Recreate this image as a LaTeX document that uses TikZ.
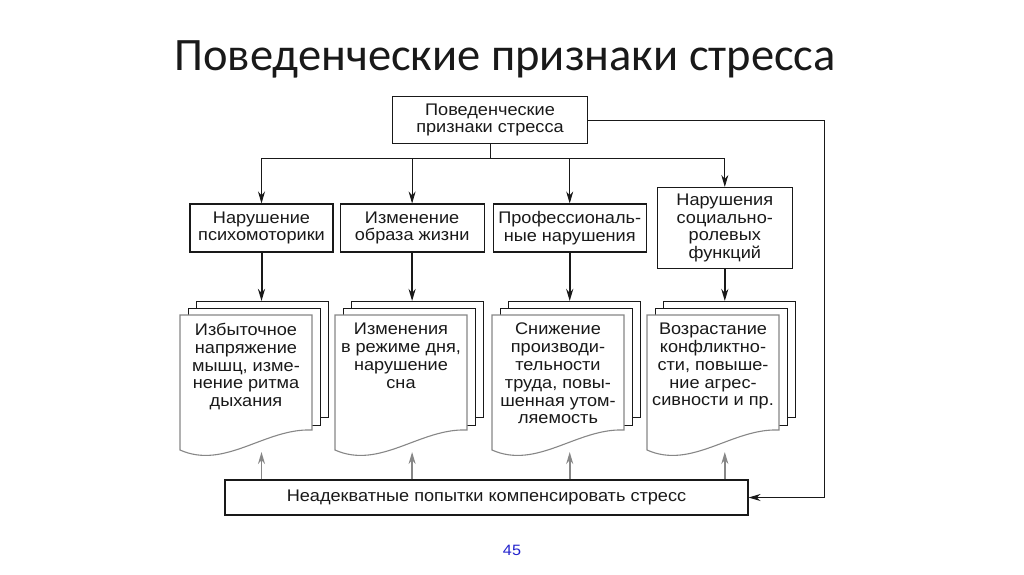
\documentclass[tikz,border=0pt]{standalone}
\usepackage{fontspec}
\setmainfont{Liberation Sans}[FakeStretch=1.08]
\newfontfamily\titlefont{Carlito}
\usepackage{xcolor}
\usetikzlibrary{arrows.meta,positioning}
\definecolor{ink}{RGB}{25,25,25}
\definecolor{shade}{RGB}{135,135,135}
\definecolor{pagenum}{RGB}{35,35,205}
\tikzstyle{box} = [rectangle, draw=ink, line width=1.1pt, fill=white, align=center, inner sep=2pt, text=ink, font=\fontsize{16.8}{17.8}\selectfont]
\tikzstyle{sheettext} = [draw=none, align=center, anchor=north, inner sep=2pt, text=ink, font=\fontsize{16.8}{17.8}\selectfont]
\tikzstyle{link} = [->, draw=ink, line width=0.9pt]
\tikzstyle{heavy} = [-{Stealth[length=12pt,width=7pt]}, draw=ink, line width=2pt]
\tikzstyle{back} = [-{Stealth[length=12pt,width=7pt]}, draw=shade, line width=1.6pt]
\tikzstyle{wire} = [draw=ink, line width=0.9pt]
% three sheets of a stack, #1 = left edge of the front sheet
\newcommand{\sheets}[2]{%
  \draw[draw=ink, fill=white, line width=1pt] (#1+16,301) rectangle (#1+148,417);
  \draw[draw=ink, fill=white, line width=1pt] (#1+8,308) rectangle (#1+140,425);
  \draw[draw=shade, fill=white, line width=1.1pt] (#1,315) -- (#1+132,315) -- (#1+132,430)
    .. controls (#1+85,428) and (#1+45,470) .. (#1,450) -- cycle;
  \coordinate (top#2) at (#1+82,301);
  \coordinate (foot#2) at (#1+81,452);
}

\begin{document}
\begin{tikzpicture}[x=1pt,y=-1pt,>={Stealth[length=12pt,width=7pt]}]
  \useasboundingbox (0,0) rectangle (1024,574);

  \node[font=\titlefont\fontsize{46.5}{46.5}\selectfont, text=ink] (title) at (505,59) {Поведенческие признаки стресса};

  \node[box, minimum width=195pt, minimum height=47pt] (top) at (490,120) {Поведенческие\\признаки стресса};
  \node[box, minimum width=143pt, minimum height=48pt] (cat1) at (261.5,228) {Нарушение\\психомоторики};
  \node[box, minimum width=144pt, minimum height=48pt] (cat2) [right=6pt of cat1] {Изменение\\образа жизни};
  \node[box, minimum width=153pt, minimum height=48pt] (cat3) [right=8pt of cat2] {Профессиональ-\\ные нарушения};
  \node[box, minimum width=135pt, minimum height=81pt] (cat4) [right=10pt of cat3] {Нарушения\\социально-\\ролевых\\функций};

  \sheets{180}{1}
  \sheets{335}{2}
  \sheets{492}{3}
  \sheets{647}{4}

  \node[sheettext] (S1) at (246,321) {Избыточное\\напряжение\\мышц, изме-\\нение ритма\\дыхания};
  \node[sheettext] (S2) at (401,321) {Изменения\\в режиме дня,\\нарушение\\сна};
  \node[sheettext] (S3) at (558,321) {Снижение\\производи-\\тельности\\труда, повы-\\шенная утом-\\ляемость};
  \node[sheettext] (S4) at (713,321) {Возрастание\\конфликтно-\\сти, повыше-\\ние агрес-\\сивности и пр.};

  \node[box, minimum width=523pt, minimum height=35pt] (bottom) at (486.5,497.5) {Неадекватные попытки компенсировать стресс};

  \node[font=\fontsize{15}{15}\selectfont, text=pagenum] (page) at (512,550) {45};

  % top box to the four groups
  \coordinate (bus) at (top.south |- 0,158);
  \draw[wire] (top.south) -- (bus);
  \draw[link] (bus) -| (cat1.north);
  \draw[link] (bus) -| (cat2.north);
  \draw[link] (bus) -| (cat3.north);
  \draw[link] (bus) -| (cat4.north);

  % groups to their signs
  \draw[heavy] (cat1.south) -- (cat1.south |- top1);
  \draw[heavy] (cat2.south) -- (cat2.south |- top2);
  \draw[heavy] (cat3.south) -- (cat3.south |- top3);
  \draw[heavy] (cat4.south) -- (cat4.south |- top4);

  % compensation back to the signs
  \draw[back] (bottom.north -| cat1.south) -- (cat1.south |- foot1);
  \draw[back] (bottom.north -| cat2.south) -- (cat2.south |- foot2);
  \draw[back] (bottom.north -| cat3.south) -- (cat3.south |- foot3);
  \draw[back] (bottom.north -| cat4.south) -- (cat4.south |- foot4);

  % feedback loop
  \draw[link] (top.east) -- ++(236,0) |- (bottom.east);
\end{tikzpicture}
\end{document}
